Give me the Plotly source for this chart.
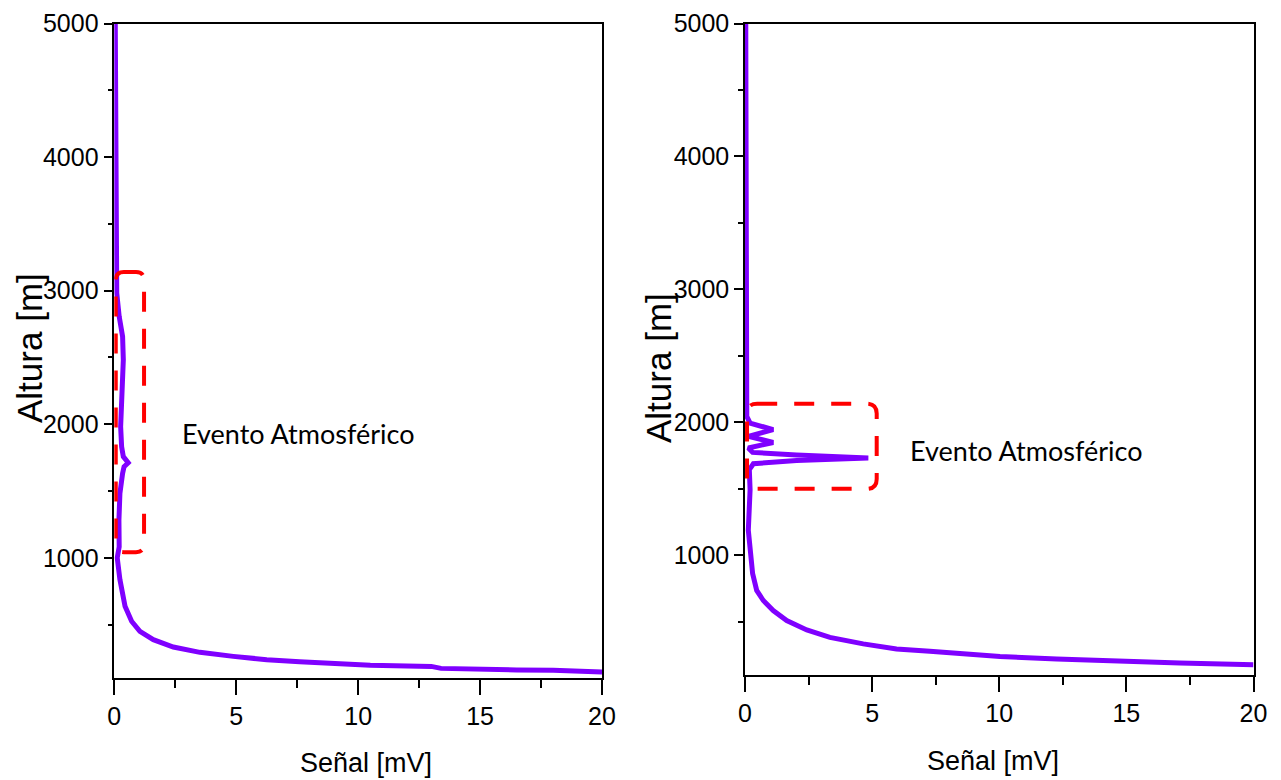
import plotly.graph_objects as go
from plotly.subplots import make_subplots

# perfil sin evento marcado (panel izquierdo)
left_signal = [0.04, 0.05, 0.05, 0.06, 0.08, 0.10, 0.20, 0.34, 0.37, 0.34, 0.27, 0.26, 0.30, 0.37,
               0.57, 0.40, 0.34, 0.23, 0.19, 0.20, 0.12, 0.23, 0.44, 0.71, 1.05, 1.60, 2.42, 3.51,
               4.88, 6.25, 7.60, 9.00, 10.50, 13.00, 13.40, 16.50, 18.00, 20.00]
left_height = [5000, 4500, 4000, 3700, 3400, 2982, 2807, 2657, 2482, 2307, 2132, 1982, 1832, 1757,
               1712, 1682, 1632, 1482, 1282, 1082, 1000, 837, 637, 525, 450, 387, 332, 292,
               262, 237, 222, 207, 195, 187, 172, 160, 158, 145]

# perfil con evento (panel derecho)
right_signal = [0.03, 0.03, 0.04, 0.04, 0.03, 0.07, 0.20, 1.11, 0.13, 1.11, 0.13, 0.30, 2.03, 4.85,
                2.03, 0.33, 0.17, 0.20, 0.13, 0.20, 0.30, 0.46, 0.72, 1.11, 1.64, 2.43, 3.34, 4.65,
                5.96, 7.27, 8.58, 10.03, 12.26, 14.88, 17.10, 20.00]
right_height = [5000, 4500, 4000, 3000, 2246, 2045, 1995, 1945, 1895, 1849, 1807, 1774, 1754, 1732,
                1714, 1689, 1644, 1493, 1189, 1000, 862, 736, 660, 585, 509, 439, 383, 334,
                296, 278, 258, 240, 220, 202, 190, 177]

# zonas marcadas como evento: [x0, x1, y0, y1]
left_box = [0.06, 1.22, 1042, 3140]
right_box = [0.08, 5.18, 1500, 2141]

y_ticks = [1000, 2000, 3000, 4000, 5000]
x_ticks = [0, 5, 10, 15, 20]

purple = "#7F00FF"
tick_font = dict(family="Liberation Sans, Arial, sans-serif", size=25, color="black")
title_font = "Liberation Sans, Arial, sans-serif"

# la página tiene 8 px de margen en el body
W, H, OFF = 1273, 772, 8


def px_x(p):
    return (p - OFF) / W


def px_y(p):
    return 1 - (p - OFF) / H


fig = make_subplots(rows=1, cols=2)

fig.add_trace(go.Scatter(x=left_signal, y=left_height, mode="lines",
                         line=dict(color=purple, width=5), showlegend=False), row=1, col=1)
fig.add_trace(go.Scatter(x=right_signal, y=right_height, mode="lines",
                         line=dict(color=purple, width=5), showlegend=False), row=1, col=2)


def rounded_box(b, rx, ry):
    x0, x1, y0, y1 = b
    return (f"M {x0 + rx},{y1} L {x1 - rx},{y1} Q {x1},{y1} {x1},{y1 - ry} "
            f"L {x1},{y0 + ry} Q {x1},{y0} {x1 - rx},{y0} L {x0 + rx},{y0} "
            f"Q {x0},{y0} {x0},{y0 + ry} L {x0},{y1 - ry} Q {x0},{y1} {x0 + rx},{y1} Z")


fig.add_shape(type="path", path=rounded_box(left_box, 0.33, 60), xref="x", yref="y",
              line=dict(color="#FF0000", width=4, dash="20px,17px"))
fig.add_shape(type="path", path=rounded_box(right_box, 0.4, 75), xref="x2", yref="y2",
              line=dict(color="#FF0000", width=4, dash="20px,17px"))

axis_common = dict(showline=True, mirror=True, linecolor="black", showgrid=False, zeroline=False,
                   ticks="outside", tickcolor="black", tickfont=tick_font, automargin=False)

fig.update_xaxes(range=[0, 20], tickvals=x_ticks, ticklen=15, tickwidth=1.5, linewidth=2,
                 minor=dict(ticks="outside", dtick=2.5, tick0=0, ticklen=8, tickwidth=1.5, tickcolor="black"),
                 **axis_common)
fig.update_yaxes(range=[100, 5000], tickvals=y_ticks, ticklen=9, tickwidth=1.5, linewidth=1.5,
                 minor=dict(ticks="outside", dtick=500, tick0=0, ticklen=5, tickwidth=1.5, tickcolor="black"),
                 **axis_common)

fig.update_layout(
    width=W, height=H,
    margin=dict(l=0, r=0, t=0, b=0),
    plot_bgcolor="white", paper_bgcolor="white",
    xaxis=dict(domain=[px_x(114.3), px_x(602)]),
    xaxis2=dict(domain=[px_x(745), px_x(1253.5)]),
    yaxis=dict(domain=[px_y(678), px_y(23.5)]),
    yaxis2=dict(domain=[px_y(675), px_y(23.5)]),
)

labels = [
    ("Señal [mV]", 366, 763, 0, 27, title_font),
    ("Señal [mV]", 993, 761, 0, 27, title_font),
    ("Altura [m]", 29, 348, -90, 35, title_font),
    ("Altura [m]", 658, 368, -90, 35, title_font),
    ("Evento Atmosférico", 298, 434, 0, 27, "Lato, Open Sans, sans-serif"),
    ("Evento Atmosférico", 1026, 450, 0, 27, "Lato, Open Sans, sans-serif"),
]
for text, px, py, angle, size, family in labels:
    fig.add_annotation(text=text, x=px_x(px), y=px_y(py), xref="paper", yref="paper",
                       showarrow=False, textangle=angle, xanchor="center", yanchor="middle",
                       font=dict(family=family, size=size, color="black"))

fig.write_html("out.html")
